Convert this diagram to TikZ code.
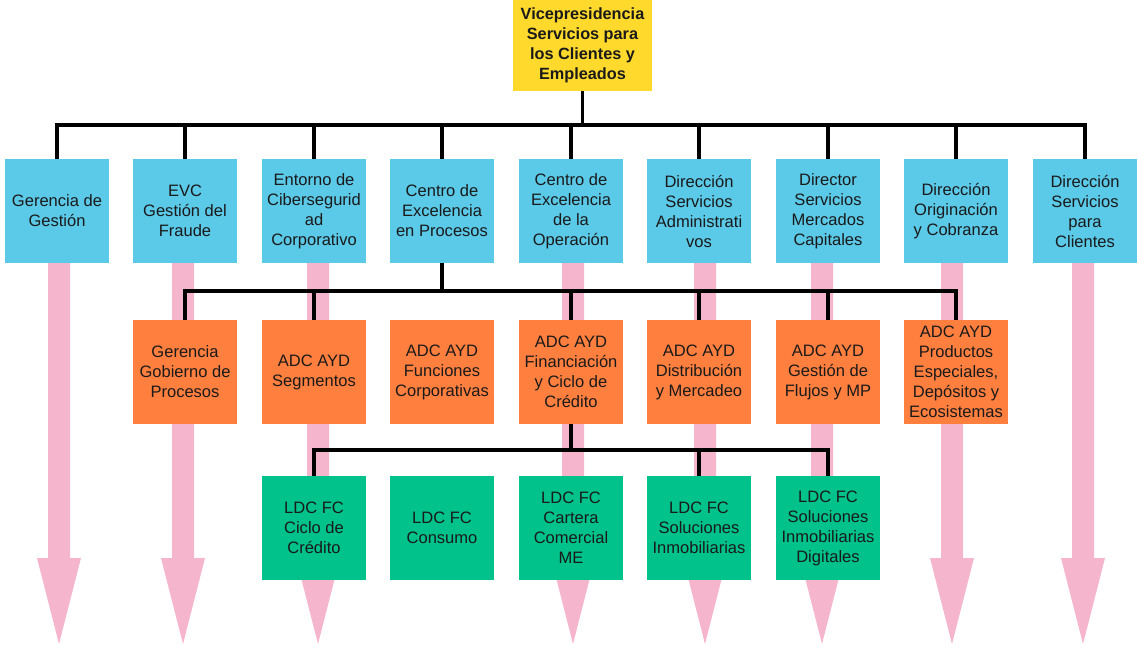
\documentclass[tikz,border=0pt]{standalone}
\usepackage{fontspec}
\setmainfont{Liberation Sans}
\usetikzlibrary{backgrounds}

\definecolor{headyellow}{HTML}{FFD92B}
\definecolor{unitblue}{HTML}{5BC9E8}
\definecolor{unitorange}{HTML}{FF7F3F}
\definecolor{unitgreen}{HTML}{00C28A}
\definecolor{flowpink}{HTML}{F4B5CD}
\definecolor{inktext}{HTML}{1A1A1A}

\begin{document}
\begin{tikzpicture}[x=0.75pt,y=-0.75pt,
  unitbox/.style={minimum width=78pt,minimum height=78pt,inner sep=0pt,
    align=center,text=inktext,font=\fontsize{12.4}{15}\selectfont},
  lvlone/.style={unitbox,fill=unitblue},
  lvltwo/.style={unitbox,fill=unitorange},
  lvlthree/.style={unitbox,fill=unitgreen},
  headbox/.style={fill=headyellow,minimum width=104.25pt,minimum height=68.25pt,
    inner sep=0pt,align=center,text=inktext,font=\fontsize{12.2}{15}\selectfont\bfseries},
  conn/.style={draw=black,line width=2.3pt},
  flow/.style={fill=flowpink}
]
\useasboundingbox (0,0) rectangle (1138,644);

% head of the organisation
\node[headbox] (vp) at (582.5,45.5) {Vicepresidencia\\Servicios para\\los Clientes y\\Empleados};

% first level
\node[lvlone] (b1) at (57,211)  {Gerencia de\\Gestión};
\node[lvlone] (b2) at (185,211) {EVC\\Gestión del\\Fraude};
\node[lvlone] (b3) at (314,211) {Entorno de\\Cibersegurid\\ad\\Corporativo};
\node[lvlone] (b4) at (442,211) {Centro de\\Excelencia\\en Procesos};
\node[lvlone] (b5) at (571,211) {Centro de\\Excelencia\\de la\\Operación};
\node[lvlone] (b6) at (699,211) {Dirección\\Servicios\\Administrati\\vos};
\node[lvlone] (b7) at (828,211) {Director\\Servicios\\Mercados\\Capitales};
\node[lvlone] (b8) at (956,211) {Dirección\\Originación\\y Cobranza};
\node[lvlone] (b9) at (1085,211) {Dirección\\Servicios\\para\\Clientes};

% second level
\node[lvltwo] (o2) at (185,372) {Gerencia\\Gobierno de\\Procesos};
\node[lvltwo] (o3) at (314,372) {ADC AYD\\Segmentos};
\node[lvltwo] (o4) at (442,372) {ADC AYD\\Funciones\\Corporativas};
\node[lvltwo] (o5) at (571,372) {ADC AYD\\Financiación\\y Ciclo de\\Crédito};
\node[lvltwo] (o6) at (699,372) {ADC AYD\\Distribución\\y Mercadeo};
\node[lvltwo] (o7) at (828,372) {ADC AYD\\Gestión de\\Flujos y MP};
\node[lvltwo] (o8) at (956,372) {ADC AYD\\Productos\\Especiales,\\Depósitos y\\Ecosistemas};

% third level
\node[lvlthree] (g3) at (314,528) {LDC FC\\Ciclo de\\Crédito};
\node[lvlthree] (g4) at (442,528) {LDC FC\\Consumo};
\node[lvlthree] (g5) at (571,528) {LDC FC\\Cartera\\Comercial\\ME};
\node[lvlthree] (g6) at (699,528) {LDC FC\\Soluciones\\Inmobiliarias};
\node[lvlthree] (g7) at (828,528) {LDC FC\\Soluciones\\Inmobiliarias\\Digitales};

% bus junctions
\coordinate (busA) at (582.5,125);
\coordinate (busB) at (442,291);
\coordinate (busC) at (571,450);

% reporting lines
\draw[conn] (vp.south) -- (busA);
\draw[conn] (b1.north) |- (busA) -| (b9.north);
\foreach \n in {b2,b3,b4,b5,b6,b7,b8}
  \draw[conn] (\n.north) -- (\n.north |- busA);

\draw[conn] (b4.south) -- (busB);
\draw[conn] (o2.north) |- (busB) -| (o8.north);
\foreach \n in {o3,o5,o6,o7}
  \draw[conn] (\n.north) -- (\n.north |- busB);

\draw[conn] (o5.south) -- (busC);
\draw[conn] (g3.north) |- (busC) -| (g7.north);
\draw[conn] (g6.north) -- (g6.north |- busC);

% broad pink flow arrows running behind the units
\begin{scope}[on background layer]
  \foreach \cx in {59,183,318,573,705,822,952,1083}
    \fill[flow] (\cx-11,258) -- (\cx+11,258) -- (\cx+11,558) -- (\cx+22,558)
      -- (\cx,644) -- (\cx-22,558) -- (\cx-11,558) -- cycle;
\end{scope}
\end{tikzpicture}
\end{document}
